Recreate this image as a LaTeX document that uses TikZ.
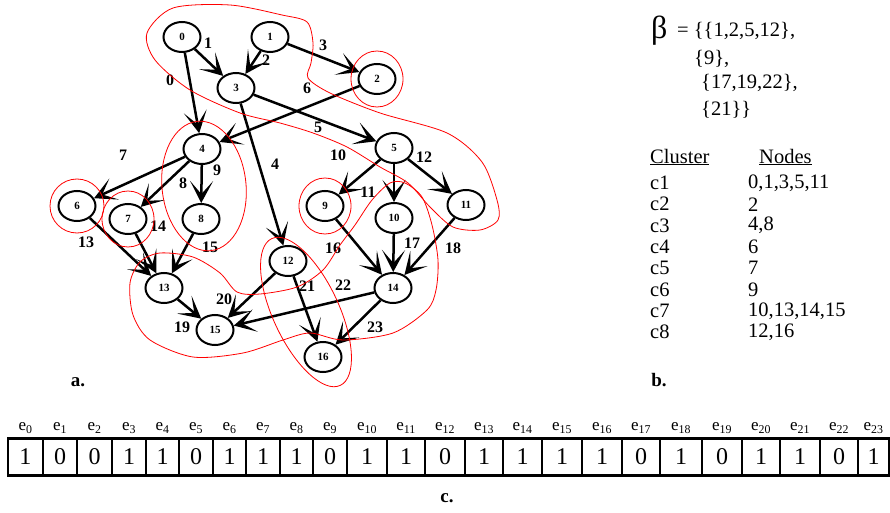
\documentclass[tikz,border=0pt]{standalone}
\usepackage{fontspec}
\setmainfont{Liberation Serif}
\usetikzlibrary{shapes.geometric, arrows.meta, positioning}

\begin{document}
\begin{tikzpicture}[x=1pt, y=-1pt,
	vertex/.style={draw, ellipse, line width=2pt, minimum width=37pt, minimum height=30pt, inner sep=0pt, font=\fontsize{11}{11}\selectfont\bfseries},
	link/.style={-{Stealth[length=22pt, width=23pt, inset=13pt]}, line width=2.5pt},
	elabel/.style={inner sep=0pt, font=\fontsize{16}{16}\selectfont\bfseries},
	cluster/.style={draw=red, line width=0.8pt},
	txt/.style={anchor=west, inner sep=0pt, font=\fontsize{20.5}{20.5}\selectfont},
	cell/.style={draw, line width=2.2pt, minimum height=37pt, inner sep=0pt, font=\fontsize{24}{24}\selectfont},
	ename/.style={inner sep=0pt, font=\fontsize{17}{17}\selectfont},
	panel/.style={inner sep=0pt, font=\fontsize{19}{19}\selectfont\bfseries}]
				\useasboundingbox (0,0) rectangle (890,513);
				% task graph
				\node[vertex] (n0)at(182, 37) {0};
				\node[vertex] (n1)at(270, 37) {1};
				\node[vertex] (n2)at(377, 79) {2};
				\node[vertex] (n3)at(236, 88) {3};
				\node[vertex] (n4)at(202, 149) {4};
				\node[vertex] (n5)at(394, 148) {5};
				\node[vertex] (n6)at(77, 206) {6};
				\node[vertex] (n7)at(128, 219) {7};
				\node[vertex] (n8)at(201, 219) {8};
				\node[vertex] (n9)at(325, 206) {9};
				\node[vertex] (n10)at(394, 218) {10};
				\node[vertex] (n11)at(466, 205) {11};
				\node[vertex] (n12)at(288, 261) {12};
				\node[vertex] (n13)at(164, 288) {13};
				\node[vertex] (n14)at(393, 288) {14};
				\node[vertex] (n15)at(215, 330) {15};
				\node[vertex] (n16)at(323, 357) {16};
				% edges: from/to/number/label x/label y
				\foreach \a/\b/\e/\lx/\ly in {0/4/0/170/80, 0/3/1/208/43, 1/3/2/266/60, 1/2/3/323/45,
						3/12/4/275/164, 3/5/5/318/127, 2/4/6/307/88, 4/6/7/123/155, 4/7/8/183/183,
						4/8/9/217/170, 5/9/10/338/155, 5/10/11/368/192, 5/11/12/424/157,
						6/13/13/86/242, 7/13/14/158/226, 8/13/15/210/247, 9/14/16/333/248,
						10/14/17/412/243, 11/14/18/453/248, 13/15/19/182/327, 12/15/20/224/299,
						12/16/21/307/286, 14/15/22/343/285, 14/16/23/375/327}{
					\draw[link] (n\a) -- (n\b);
					\node[elabel] (l\e) at (\lx, \ly) {\e};
				}
				% clusters
				\draw[cluster] plot[smooth cycle] coordinates {(147,33) (173,8) (230,5) (282,15) (307,22) (313,43)
						(311,63) (308,78) (330,93) (380,113) (447,133) (482,162) (497,200) (498,220) (480,230)
						(453,227) (430,207) (408,183) (380,167) (347,147) (313,133) (280,123) (240,113) (190,90) (155,60)};
				\draw[cluster] (n2) ellipse (26 and 28);
				\draw[cluster, rotate around={6:(204,186)}] (204,186) ellipse (42 and 65);
				\draw[cluster] (n6) circle (27);
				\draw[cluster] (n7) ellipse (26 and 28);
				\draw[cluster] (n9) ellipse (26 and 28);
				\draw[cluster] plot[smooth cycle] coordinates {(130,283) (140,262) (160,253) (193,257) (220,273)
						(237,292) (260,294) (297,287) (323,270) (340,245) (355,225) (372,200) (390,183) (405,183)
						(422,197) (432,225) (438,260) (436,290) (427,310) (393,333) (343,340) (310,333) (283,340)
						(243,353) (193,357) (150,340) (133,315)};
				\draw[cluster, rotate around={25:(306,312)}] (306,312) ellipse (33 and 81);
				\node[panel] (pa) at (78, 382) {a.};
				% beta set
				\node[anchor=west, inner sep=0pt, font=\fontsize{32}{32}\selectfont] (beta) at (651, 31) {β};
				\node[txt] (s1) at (677, 31) {= \{\{1,2,5,12\},};
				\node[txt] (s2) at (694, 59) {\{9\},};
				\node[txt] (s3) at (701, 83) {\{17,19,22\},};
				\node[txt] (s4) at (701, 110) {\{21\}\}};
				% cluster table
				\node[txt] (hc) at (650, 157) {\underline{Cluster}};
				\node[txt] (hn) at (759, 157) {\underline{Nodes}};
				\foreach \c/\v [count=\k from 0] in {c1/{0,1,3,5,11}, c2/2, c3/{4,8}, c4/6, c5/7, c6/9,
						c7/{10,13,14,15}, c8/{12,16}}{
					\node[txt] (r\c) at (650, 183+\k*21.3) {\c};
					\node[txt] (v\c) at (748, 183+\k*21.3) {\v};
				}
				\node[panel] (pb) at (659, 380) {b.};
				% bit string
				\foreach \i/\b/\xa/\xb in {0/1/8/43, 1/0/43/77, 2/0/77/112, 3/1/112/146, 4/1/146/179, 5/0/179/213,
						6/1/213/246, 7/1/246/280, 8/1/280/313, 9/0/313/347, 10/1/347/387, 11/1/387/425,
						12/0/425/465, 13/1/465/503, 14/1/503/542, 15/1/542/582, 16/1/582/622, 17/0/622/660,
						18/1/660/702, 19/0/702/742, 20/1/742/780, 21/1/780/820, 22/0/820/858, 23/1/858/889}{
					\node[cell, minimum width={(\xb-\xa)*1pt}] (c\i) at ({(\xa+\xb)/2}, 457) {\b};
					\node[ename, above=4pt of c\i] (e\i) {e\textsubscript{\i}};
				}
				\node[panel] (pc) at (447, 498) {c.};
			\end{tikzpicture}
\end{document}
